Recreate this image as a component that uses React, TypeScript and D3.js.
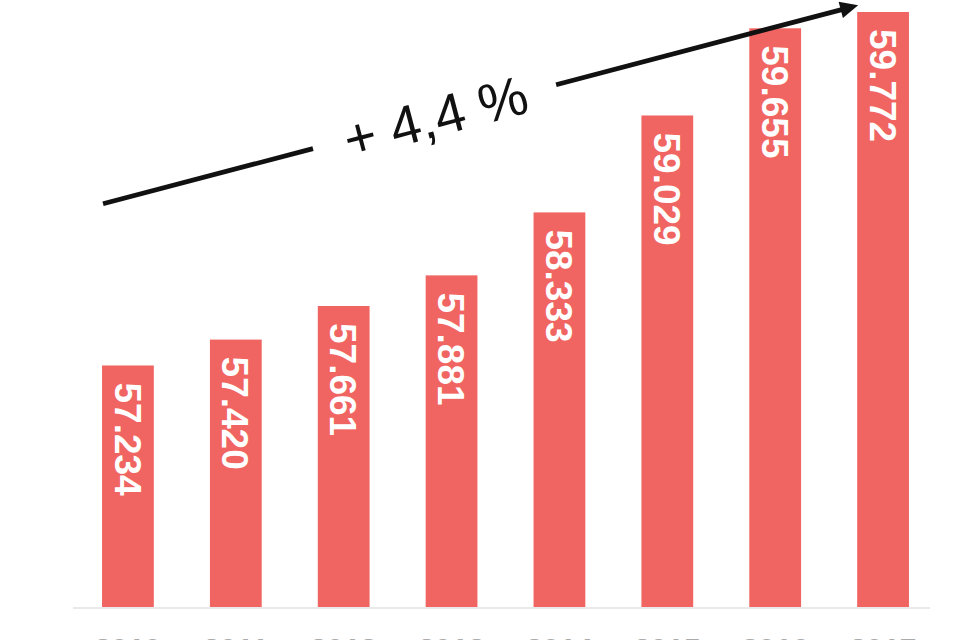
import React from "react";
import * as d3 from "d3";

const years = ["2010", "2011", "2012", "2013", "2014", "2015", "2016", "2017"];
const values = [57.234, 57.42, 57.661, 57.881, 58.333, 59.029, 59.655, 59.772];
const valueLabels = ["57.234", "57.420", "57.661", "57.881", "58.333", "59.029", "59.655", "59.772"];
const growthLabel = "+ 4,4 %";
const arrowStartValue = 58.395;
const arrowEndValue = 59.82;

const W = 960;
const H = 640;

export default function App() {
  const x = d3
    .scaleBand<string>()
    .domain(years)
    .range([74, 937])
    .paddingInner(0.52)
    .paddingOuter(0.26);
  const y = d3.scaleLinear().domain([55.5, 59.772]).range([607, 12]);

  const bw = x.bandwidth();

  // arrow geometry derived from scales
  const x0 = x(years[0])! + 1;
  const y0 = y(arrowStartValue);
  const x1 = x(years[years.length - 1])! + 1;
  const y1 = y(arrowEndValue);
  const dx = x1 - x0;
  const dy = y1 - y0;
  const len = Math.sqrt(dx * dx + dy * dy);
  const ux = dx / len;
  const uy = dy / len;
  const angle = (Math.atan2(dy, dx) * 180) / Math.PI;
  const pt = (t: number) => [x0 + dx * t, y0 + dy * t];
  const gapStart = 0.278;
  const gapEnd = 0.6;
  const textT = 0.44;
  const headLen = 18;
  const headHalf = 8.5;
  const [s1x, s1y] = pt(gapStart);
  const [s2x, s2y] = pt(gapEnd);
  const bx = x1 - ux * headLen;
  const by = y1 - uy * headLen;
  const px = -uy;
  const py = ux;
  const [tx, ty] = pt(textT);

  return (
    <svg
      width={W}
      height={H}
      style={{ position: "absolute", left: 0, top: 0, background: "#fff" }}
    >
      <line x1={73} x2={930} y1={608} y2={608} stroke="#e2e2e2" strokeWidth={1.5} />
      {years.map((yr, i) => (
        <g key={yr}>
          <rect
            x={x(yr)}
            y={y(values[i])}
            width={bw}
            height={y(55.5) - y(values[i])}
            fill="#f06561"
          />
          <text
            transform={`translate(${x(yr)! + bw / 2},${y(values[i]) + 17}) rotate(90)`}
            dy="0.36em"
            fill="#fff"
            fontFamily="'Liberation Sans', Arial, sans-serif"
            fontWeight={700}
            fontSize={37}
          >
            {valueLabels[i]}
          </text>
          <text
            x={x(yr)! + bw / 2}
            y={659}
            textAnchor="middle"
            fill="#aaaaaa"
            fontFamily="'Liberation Sans', Arial, sans-serif"
            fontWeight={700}
            fontSize={30}
          >
            {yr}
          </text>
        </g>
      ))}
      <line x1={x0} y1={y0} x2={s1x} y2={s1y} stroke="#111" strokeWidth={4.8} />
      <line x1={s2x} y1={s2y} x2={bx + ux * 2} y2={by + uy * 2} stroke="#111" strokeWidth={4.8} />
      <path
        d={`M${x1},${y1}L${bx + px * headHalf},${by + py * headHalf}L${bx - px * headHalf},${by - py * headHalf}Z`}
        fill="#111"
      />
      <text
        transform={`translate(${tx},${ty}) rotate(${angle})`}
        textAnchor="middle"
        dy="0.36em"
        fill="#111"
        fontFamily="'Liberation Sans', Arial, sans-serif"
        fontWeight={400}
        fontSize={55}
      >
        {growthLabel}
      </text>
    </svg>
  );
}
